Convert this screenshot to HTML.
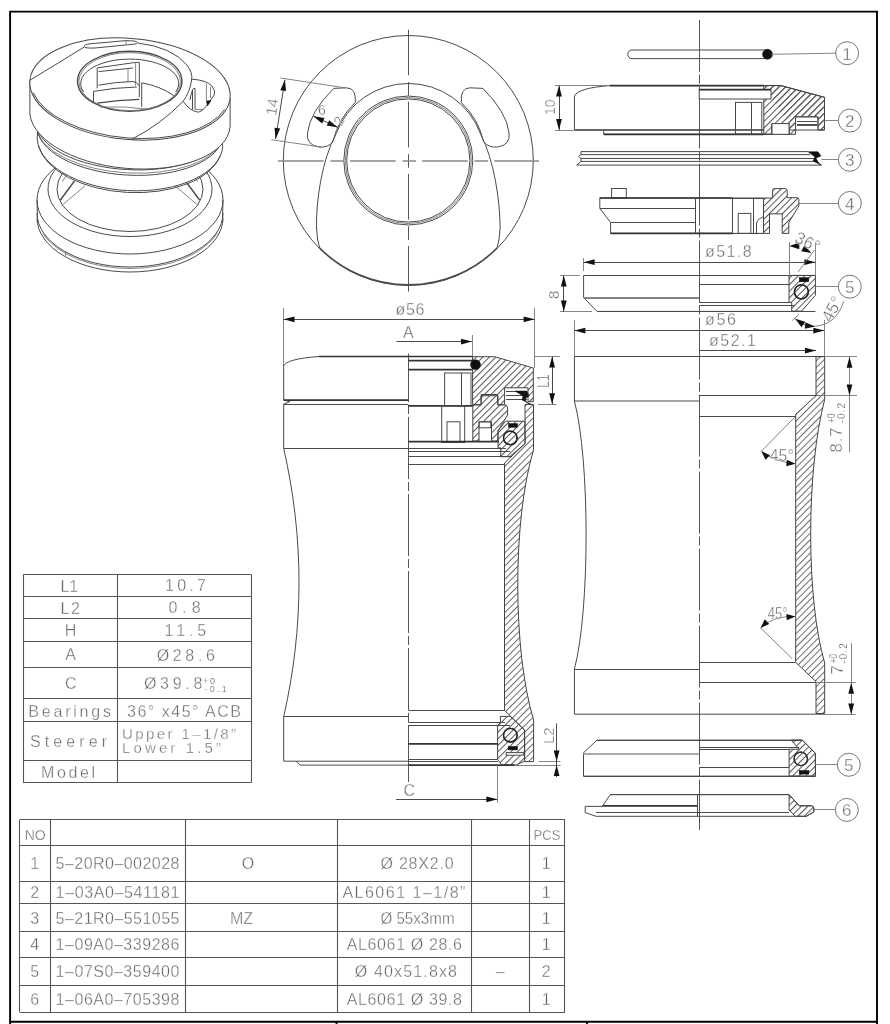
<!DOCTYPE html>
<html><head><meta charset="utf-8"><style>
html,body{margin:0;padding:0;background:#fff;}
svg{position:absolute;left:0;top:0;display:block;will-change:transform;}
.ln{fill:none;stroke:#4a4a4a;stroke-width:1;}
.lt{fill:none;stroke:#777;stroke-width:0.9;}
.bd{fill:none;stroke:#333;stroke-width:1.7;}
.fr{fill:none;stroke:#000;stroke-width:1.9;}
.tb{fill:none;stroke:#555;stroke-width:1.1;}
.ar{fill:#111;stroke:none;}
.blk{fill:#111;stroke:#111;stroke-width:0.5;}
.ht{fill:url(#hatch);stroke:#444;stroke-width:1;}
.ht2{fill:url(#hatch2);stroke:#444;stroke-width:1;}
.cl{fill:none;stroke:#555;stroke-width:1;}
.tx{fill:#666;stroke:#fff;stroke-width:0.35px;font-family:"Liberation Sans",sans-serif;}
.sm{stroke-width:0.15px;fill:#666;}
.wt{fill:#fff;stroke:#4a4a4a;stroke-width:1;}
</style></head><body>
<svg width="890" height="1024" viewBox="0 0 890 1024"><defs>
<pattern id="hatch" patternUnits="userSpaceOnUse" width="4.6" height="10" patternTransform="rotate(45)"><line x1="0.5" y1="0" x2="0.5" y2="10" stroke="#555" stroke-width="1"/></pattern>
<pattern id="hatch2" patternUnits="userSpaceOnUse" width="4.7" height="10" patternTransform="rotate(45)"><line x1="0.5" y1="0" x2="0.5" y2="10" stroke="#555" stroke-width="0.9"/></pattern>
</defs>
<path d="M10.1,1024 V11.6 H877 V1024" class="fr" />
<line x1="10.1" y1="1021.7" x2="877" y2="1021.7" class="fr" />
<line x1="336.5" y1="1021.8" x2="336.5" y2="1024" class="fr" />
<line x1="587" y1="1021.8" x2="587" y2="1024" class="fr" />
<line x1="23.4" y1="574.5" x2="251.1" y2="574.5" class="tb" />
<line x1="23.4" y1="596.5" x2="251.1" y2="596.5" class="tb" />
<line x1="23.4" y1="618.5" x2="251.1" y2="618.5" class="tb" />
<line x1="23.4" y1="641.5" x2="251.1" y2="641.5" class="tb" />
<line x1="23.4" y1="667.5" x2="251.1" y2="667.5" class="tb" />
<line x1="23.4" y1="698.5" x2="251.1" y2="698.5" class="tb" />
<line x1="23.4" y1="721.5" x2="251.1" y2="721.5" class="tb" />
<line x1="23.4" y1="760.5" x2="251.1" y2="760.5" class="tb" />
<line x1="23.4" y1="782.5" x2="251.1" y2="782.5" class="tb" />
<line x1="23.5" y1="574.4" x2="23.5" y2="782.8" class="tb" />
<line x1="251.5" y1="574.4" x2="251.5" y2="782.8" class="tb" />
<line x1="117.5" y1="574.4" x2="117.5" y2="782.8" class="tb" />
<text x="60.6" y="591.6" font-size="16" text-anchor="start" class="tx" textLength="17.5" lengthAdjust="spacingAndGlyphs" >L1</text>
<text x="60.6" y="613.8" font-size="16" text-anchor="start" class="tx" textLength="19.4" lengthAdjust="spacing" >L2</text>
<text x="70.5" y="635.8" font-size="16" text-anchor="middle" class="tx" >H</text>
<text x="70.5" y="660" font-size="16" text-anchor="middle" class="tx" >A</text>
<text x="70.7" y="688.8" font-size="16" text-anchor="middle" class="tx" >C</text>
<text x="28.3" y="716.5" font-size="16" text-anchor="start" class="tx" textLength="82.7" lengthAdjust="spacing" >Bearings</text>
<text x="30" y="746.8" font-size="16" text-anchor="start" class="tx" textLength="77" lengthAdjust="spacing" >Steerer</text>
<text x="41" y="777.6" font-size="16" text-anchor="start" class="tx" textLength="54" lengthAdjust="spacing" >Model</text>
<text x="165" y="591" font-size="16" text-anchor="start" class="tx" textLength="41" lengthAdjust="spacing" >10.7</text>
<text x="168.5" y="613.3" font-size="16" text-anchor="start" class="tx" textLength="32.2" lengthAdjust="spacing" >0.8</text>
<text x="164.6" y="635.8" font-size="16" text-anchor="start" class="tx" textLength="41.6" lengthAdjust="spacing" >11.5</text>
<text x="156.7" y="660.5" font-size="16" text-anchor="start" class="tx" textLength="58.2" lengthAdjust="spacing" >&#216;28.6</text>
<text x="144" y="688.5" font-size="16" text-anchor="start" class="tx" textLength="58.3" lengthAdjust="spacing" >&#216;39.8</text>
<text x="203" y="683.5" font-size="9" text-anchor="start" class="tx sm" textLength="12" lengthAdjust="spacing" >+0</text>
<text x="204.4" y="692.4" font-size="9" text-anchor="start" class="tx sm" textLength="22.3" lengthAdjust="spacing" >-0.1</text>
<text x="127" y="716.5" font-size="16" text-anchor="start" class="tx" textLength="114" lengthAdjust="spacing" >36&#176; x45&#176; ACB</text>
<text x="122" y="738.5" font-size="15" text-anchor="start" class="tx" textLength="114" lengthAdjust="spacing" >Upper  1&#8211;1/8&#8221;</text>
<text x="122" y="752.5" font-size="15" text-anchor="start" class="tx" textLength="99" lengthAdjust="spacing" >Lower  1.5&#8221;</text>
<line x1="19.8" y1="819.5" x2="564.8" y2="819.5" class="tb" />
<line x1="19.8" y1="845.5" x2="564.8" y2="845.5" class="tb" />
<line x1="19.8" y1="881.5" x2="564.8" y2="881.5" class="tb" />
<line x1="19.8" y1="903.5" x2="564.8" y2="903.5" class="tb" />
<line x1="19.8" y1="931.5" x2="564.8" y2="931.5" class="tb" />
<line x1="19.8" y1="957.5" x2="564.8" y2="957.5" class="tb" />
<line x1="19.8" y1="985.5" x2="564.8" y2="985.5" class="tb" />
<line x1="19.8" y1="1012.5" x2="564.8" y2="1012.5" class="tb" />
<line x1="19.5" y1="819.8" x2="19.5" y2="1012" class="tb" />
<line x1="50.5" y1="819.8" x2="50.5" y2="1012" class="tb" />
<line x1="185.5" y1="819.8" x2="185.5" y2="1012" class="tb" />
<line x1="337.5" y1="819.8" x2="337.5" y2="1012" class="tb" />
<line x1="471.5" y1="819.8" x2="471.5" y2="1012" class="tb" />
<line x1="529.5" y1="819.8" x2="529.5" y2="1012" class="tb" />
<line x1="564.5" y1="819.8" x2="564.5" y2="1012" class="tb" />
<text x="24.7" y="839.5" font-size="15" text-anchor="start" class="tx" textLength="21.1" lengthAdjust="spacingAndGlyphs" >NO</text>
<text x="533.5" y="839.5" font-size="15" text-anchor="start" class="tx" textLength="26.9" lengthAdjust="spacingAndGlyphs" >PCS</text>
<text x="34.6" y="869.4" font-size="16" text-anchor="middle" class="tx" >1</text>
<text x="55.6" y="869.4" font-size="16" text-anchor="start" class="tx" textLength="123.8" lengthAdjust="spacing" >5&#8211;20R0&#8211;002028</text>
<text x="546.3" y="869.4" font-size="16" text-anchor="middle" class="tx" >1</text>
<text x="34.6" y="898.4" font-size="16" text-anchor="middle" class="tx" >2</text>
<text x="55.6" y="898.4" font-size="16" text-anchor="start" class="tx" textLength="123.8" lengthAdjust="spacing" >1&#8211;03A0&#8211;541181</text>
<text x="546.3" y="898.4" font-size="16" text-anchor="middle" class="tx" >1</text>
<text x="34.6" y="923.5" font-size="16" text-anchor="middle" class="tx" >3</text>
<text x="55.6" y="923.5" font-size="16" text-anchor="start" class="tx" textLength="123.8" lengthAdjust="spacing" >5&#8211;21R0&#8211;551055</text>
<text x="546.3" y="923.5" font-size="16" text-anchor="middle" class="tx" >1</text>
<text x="34.6" y="950.4" font-size="16" text-anchor="middle" class="tx" >4</text>
<text x="55.6" y="950.4" font-size="16" text-anchor="start" class="tx" textLength="123.8" lengthAdjust="spacing" >1&#8211;09A0&#8211;339286</text>
<text x="546.3" y="950.4" font-size="16" text-anchor="middle" class="tx" >1</text>
<text x="34.6" y="977.3" font-size="16" text-anchor="middle" class="tx" >5</text>
<text x="55.6" y="977.3" font-size="16" text-anchor="start" class="tx" textLength="123.8" lengthAdjust="spacing" >1&#8211;07S0&#8211;359400</text>
<text x="546.3" y="977.3" font-size="16" text-anchor="middle" class="tx" >2</text>
<text x="34.6" y="1004.5" font-size="16" text-anchor="middle" class="tx" >6</text>
<text x="55.6" y="1004.5" font-size="16" text-anchor="start" class="tx" textLength="123.8" lengthAdjust="spacing" >1&#8211;06A0&#8211;705398</text>
<text x="546.3" y="1004.5" font-size="16" text-anchor="middle" class="tx" >1</text>
<text x="248" y="869.4" font-size="16" text-anchor="middle" class="tx" >O</text>
<text x="241.5" y="923.5" font-size="16" text-anchor="middle" class="tx" >MZ</text>
<text x="380.4" y="869.4" font-size="16" text-anchor="start" class="tx" textLength="73.2" lengthAdjust="spacing" >&#216; 28X2.0</text>
<text x="342.4" y="898.4" font-size="16" text-anchor="start" class="tx" textLength="123" lengthAdjust="spacing" >AL6061  1&#8211;1/8&#8221;</text>
<text x="380.4" y="923.5" font-size="16" text-anchor="start" class="tx" textLength="74.2" lengthAdjust="spacingAndGlyphs" >&#216; 55x3mm</text>
<text x="346.7" y="950.4" font-size="16" text-anchor="start" class="tx" textLength="115.3" lengthAdjust="spacing" >AL6061 &#216; 28.6</text>
<text x="354.8" y="977.3" font-size="16" text-anchor="start" class="tx" textLength="102.2" lengthAdjust="spacing" >&#216; 40x51.8x8</text>
<text x="500.2" y="977.3" font-size="16" text-anchor="middle" class="tx" >&#8211;</text>
<text x="346.7" y="1004.5" font-size="16" text-anchor="start" class="tx" textLength="115.3" lengthAdjust="spacing" >AL6061 &#216; 39.8</text>
<circle cx="408.3" cy="160.5" r="125" class="ln" />
<circle cx="408.3" cy="160.5" r="64.5" class="ln" />
<circle cx="408.3" cy="160.5" r="63" class="lt" />
<circle cx="408.3" cy="160.5" r="61.6" class="ln" />
<path d="M408.5,29.7 V297" class="cl" stroke-dasharray="45.6,6.8,13.6,6.1"/>
<path d="M278,161 H539" class="cl" stroke-dasharray="45.6,6.8,13.6,6.1" style="stroke:#888;stroke-width:1.3"/>
<path d="M319.7,248 Q317,240 316.5,228 C316,200 322,160 335.94,134.16 A77,77 0 0 1 480.66,134.16 C494,160 500,200 500.1,228 Q499.6,240 497,248" class="ln" />
<path d="M319.7,248 A125,125 0 0 0 497,248" class="ln" style="stroke-width:1.5"/>
<path d="M333.7,88.4 L346.5,87.8 Q356.5,88 355.3,102.5 A77.5,77.5 0 0 0 333,141.6 Q328,148 319,147 Q306,145 307.5,133 Q310,112 333.7,88.4 Z" class="ln" />
<path d="M482.9,88.4 L470.1,87.8 Q460.1,88 461.3,102.5 A77.5,77.5 0 0 1 483.6,141.6 Q488.6,148 497.6,147 Q510.6,145 509.1,133 Q506.6,112 482.9,88.4 Z" class="ln" />
<line x1="346" y1="88" x2="280.5" y2="78" class="lt" />
<line x1="321" y1="147" x2="271.3" y2="139.7" class="lt" />
<line x1="284.9" y1="79.8" x2="275.6" y2="139" class="ln" />
<path d="M284.9,79.8 L286.04,91.12 L280.31,90.21 Z" class="ar"/>
<path d="M275.6,139 L274.46,127.68 L280.19,128.59 Z" class="ar"/>
<text x="0" y="0" font-size="15" text-anchor="start" class="tx" transform="translate(276,116) rotate(-81)">14</text>
<line x1="313.3" y1="116.2" x2="338" y2="127.4" class="ln" />
<path d="M313.3,116.2 L324.52,118.1 L322.12,123.39 Z" class="ar"/>
<path d="M338,127.4 L326.78,125.5 L329.18,120.21 Z" class="ar"/>
<text x="318" y="115" font-size="14" text-anchor="start" class="tx" >6</text>
<text x="334" y="124" font-size="14" text-anchor="start" class="tx" transform="rotate(-60 340 119)">2</text>
<ellipse cx="130" cy="200" rx="93" ry="54" class="ln" />
<ellipse cx="130" cy="189" rx="82" ry="47.5" class="ln" />
<ellipse cx="130" cy="189.2" rx="73" ry="42.3" class="ln" />
<path d="M62.39,181.65 A70,40 0 0 1 197.61,181.65" class="lt" />
<path d="M74.5,181 L60.4,200" class="ln" style="stroke-width:1.4"/>
<path d="M85,185.8 L61.6,205.7" class="lt" />
<path d="M185.5,181 L199.6,200" class="ln" style="stroke-width:1.4"/>
<path d="M175,185.8 L198.4,205.7" class="lt" />
<line x1="37" y1="200" x2="37.5" y2="222" class="ln" />
<line x1="223" y1="200" x2="222.5" y2="222" class="ln" />
<path d="M223,213 A93,54 0 0 1 37,213" class="ln" />
<path d="M217.39,232.97 A93,54 0 0 1 42.61,232.97" class="lt" />
<path d="M223,218 A93,54 0 0 1 37,218" class="ln" />
<line x1="65.5" y1="251.5" x2="65.5" y2="256" class="lt" />
<path d="M37.13,120.13 V136.13 A93,50 3 0 0 222.87,145.87 V129.87 Z" class="wt" style="stroke:none"/>
<line x1="37.5" y1="124.13" x2="37.5" y2="136.13" class="ln" />
<line x1="222.5" y1="133.87" x2="222.5" y2="145.87" class="ln" />
<path d="M222.87,145.87 A93,50 3 0 1 37.13,136.13" class="ln" />
<path d="M220.51,155.52 A92.5,50.5 3 0 1 38.57,145.99" class="ln" />
<path d="M222.87,132.87 A93,42 3 0 1 37.13,123.13" class="ln" />
<path d="M222.32,138.59 A93,43 3 0 1 37.28,128.89" class="lt" />
<path d="M222.87,135.87 A93,44.5 3 0 1 37.13,126.13" class="ln" />
<path d="M29.88,80.24 L29.88,109.24 A100.5,50.5 5 0 0 230.12,126.76 L230.12,97.76 Z" class="wt" />
<ellipse cx="130" cy="89" rx="100.5" ry="50.5" class="wt" transform="rotate(5 130 89)"/>
<path d="M224.62,109.27 A99.5,50 5 0 1 33.13,92.52" class="ln" />
<path d="M29.88,80.24 Q60,62 84.2,47 M137.6,43 Q172,47 186.9,65 Q193,73 191.6,80 Q190,92 183.1,101.4 Q160,125 132.5,138.8" class="ln" />
<ellipse cx="129.7" cy="81.2" rx="52.2" ry="30" class="ln" style="stroke-width:1.4"/>
<ellipse cx="129.7" cy="81.6" rx="50.8" ry="29" class="lt" />
<path d="M83.66,91.98 A49,24.5 0 1 1 175.74,91.98" class="ln" />
<path d="M97.2,88.3 V67.9 L135.6,62.4 H139.3 V97" class="ln" />
<path d="M135.6,62.4 V86" class="lt" />
<path d="M98.5,71.6 L133,68" class="ln" />
<path d="M128,68 V82" class="lt" />
<path d="M98.5,85.2 Q115,82 133,81.5 Q137,82 139.3,85.8" class="ln" />
<path d="M93.5,102 V91.4 Q115,87.5 136.8,87" class="ln" />
<path d="M97.2,103.2 Q118,100 139.3,99.4" class="ln" style="stroke-width:1.3"/>
<path d="M141.7,106.9 V82.8 Q160,86 173.9,95.7" class="ln" />
<path d="M100,107 Q125,106 149,109.3" class="lt" />
<path d="M84.2,46.5 Q84,44.5 90,43.8 L125,40.7 Q137,40.5 137.6,42.6 Q137,44 134,44.2 L95,48 Q84.5,48.5 84.2,46.5 Z" class="ln" />
<path d="M126,41 V44.5" class="lt" />
<path d="M191.8,79.2 Q206,80 212,86 Q216,91 214.2,95 L206.4,106.1 Q202,112 198.3,112.2 Q190,111 183.1,101.4" class="ln" />
<path d="M192.5,109.5 V90 Q193.5,87.5 195,88.6 V109.5 M190,100 Q191,94 192.5,90" class="ln" />
<path d="M206.4,84 V101 M210.5,87 V98 M195,109.5 H204" class="lt" />
<path d="M206.5,101 L211,100.5 L207.5,106 Z" class="blk" />
<line x1="699.5" y1="20" x2="699.5" y2="830" class="cl" stroke-dasharray="62,3,9,3" stroke-dashoffset="10.4"/>
<path d="M632,50 H767 A4.3,4.3 0 0 1 767,58.6 H632 A4.3,4.3 0 0 1 632,50 Z" class="ln" />
<circle cx="767.5" cy="54.3" r="5" class="blk" />
<line x1="771" y1="54.3" x2="835.6" y2="53.2" class="lt" />
<circle cx="847.1" cy="53.2" r="11.5" class="lt" style="stroke:#666"/>
<text x="847.1" y="59.7" font-size="17" text-anchor="middle" class="tx" >1</text>
<path d="M574.4,130 V96 Q578,88 609.8,85.6 H763.8" class="ln" />
<line x1="609.8" y1="85.6" x2="763.8" y2="85.6" class="bd" />
<line x1="574.4" y1="130" x2="763.8" y2="130" class="bd" />
<path d="M603.7,130 V134.3 H763.8" class="ln" />
<line x1="603.7" y1="134.3" x2="763.8" y2="134.3" class="bd" />
<rect x="735.5" y="102.4" width="26.3" height="31.6" class="ln" />
<line x1="751.5" y1="102.4" x2="751.5" y2="134" class="ln" />
<path d="M763.8,85.6 H781 L824.5,97.3 V130 H817.8 V117 H795.6 V130 H789 V134.3 H772 V123.6 H789 M772,134.3 H763.8 Z" class="ht" />
<path d="M763.8,85.6 H781 L824.5,97.3 V130 H817.8 V117 H795.6 V134.3 H789 V123.6 H772 V134.3 H763.8 Z" class="ht" />
<rect x="699.2" y="89.6" width="71.8" height="9.4" class="wt" />
<line x1="699.2" y1="89.6" x2="771" y2="89.6" class="bd" />
<rect x="772" y="123.6" width="17" height="10.7" class="wt" />
<rect x="795.6" y="117" width="22.2" height="13" class="wt" />
<line x1="797" y1="121.5" x2="817" y2="121.5" class="ln" />
<line x1="797" y1="125" x2="817" y2="125" class="bd" />
<line x1="555" y1="85.5" x2="609" y2="85.5" class="lt" />
<line x1="555" y1="130.5" x2="574" y2="130.5" class="lt" />
<line x1="559.5" y1="85.6" x2="559.5" y2="130" class="ln" />
<path d="M559,85.6 L561.9,96.6 L556.1,96.6 Z" class="ar"/>
<path d="M559,130 L556.1,119 L561.9,119 Z" class="ar"/>
<text x="0" y="0" font-size="14" text-anchor="start" class="tx" transform="translate(555,115) rotate(-90)">10</text>
<circle cx="849.8" cy="120.6" r="11.5" class="lt" style="stroke:#666"/>
<line x1="824.5" y1="120.5" x2="838.3" y2="120.5" class="lt" />
<text x="849.8" y="127.1" font-size="17" text-anchor="middle" class="tx" >2</text>
<path d="M581,151.6 H808 M581,154.6 H810 M581,158.5 H815 M581,161.4 H818 M576.7,165.1 H821.5" class="ln" />
<path d="M581,151.6 V154.6 Q576.5,156.5 581,158.5 V161.4 L576.7,165.1" class="ln" />
<path d="M808,151.7 H818 L821,156 L816,158 L818,162 L821.5,165.3 L813,161 L815,157 Z" class="blk" />
<circle cx="849.8" cy="159.8" r="11.5" class="lt" style="stroke:#666"/>
<line x1="821.5" y1="159.5" x2="838.3" y2="159.5" class="lt" />
<text x="849.8" y="166.3" font-size="17" text-anchor="middle" class="tx" >3</text>
<rect x="611.6" y="188.5" width="14.7" height="9.5" class="ln" />
<path d="M599.8,198 H763.2 M599.8,198 V208.2 L610.6,222.5 V233.4 H763.2" class="ln" />
<line x1="599.8" y1="208.5" x2="695.5" y2="208.5" class="ln" />
<line x1="610.6" y1="222.5" x2="695.5" y2="222.5" class="ln" />
<line x1="610.6" y1="233.4" x2="732.6" y2="233.4" class="bd" />
<line x1="732.6" y1="233.5" x2="763.5" y2="233.5" class="ln" />
<line x1="599.8" y1="198" x2="732.6" y2="198" class="bd" />
<line x1="732.6" y1="198.5" x2="763.5" y2="198.5" class="ln" />
<line x1="695.5" y1="198" x2="695.5" y2="233.4" class="ln" />
<line x1="732.5" y1="198" x2="732.5" y2="233.4" class="ln" />
<line x1="753.5" y1="198" x2="753.5" y2="233.4" class="ln" />
<path d="M756.5,233.4 V223 Q757,219 763.5,216.5" class="ln" />
<rect x="738.2" y="213.4" width="12.6" height="20" class="ln" />
<path d="M763.5,198 H772.6 V190.5 Q772.6,188.6 774.5,188.6 H785.2 Q787.2,188.6 787.2,190.5 V197.7 H797 Q798.9,197.7 798.9,199.5 V205.8 L788.8,222.5 V233.4 H782.2 V213.9 H769.5 V233.4 H763.5 Z" class="ht" />
<circle cx="849.8" cy="203" r="11.5" class="lt" style="stroke:#666"/>
<line x1="799" y1="203.5" x2="838.3" y2="203.5" class="lt" />
<text x="849.8" y="209.5" font-size="17" text-anchor="middle" class="tx" >4</text>
<path d="M583.6,275.4 V297.5 L597,311.4 H789" class="ln" />
<line x1="583.6" y1="275.5" x2="815.4" y2="275.5" class="ln" />
<line x1="583.6" y1="297.5" x2="699.2" y2="297.5" class="lt" />
<line x1="583.6" y1="298.5" x2="699.2" y2="298.5" class="lt" />
<line x1="699.2" y1="284.5" x2="789" y2="284.5" class="ln" />
<line x1="699.2" y1="302.5" x2="789" y2="302.5" class="ln" />
<line x1="699.2" y1="305.5" x2="795" y2="305.5" class="ln" />
<line x1="597" y1="311.5" x2="815.4" y2="311.5" class="ln" />
<path d="M789,275.4 H815.4 V295.3 L801.6,311.1 H791.7 V302.3 H789 Z" class="ht" />
<circle cx="801.4" cy="291.8" r="7" class="wt" style="stroke:#222;stroke-width:1.3"/>
<circle cx="801.4" cy="291.8" r="7" class="ht" style="stroke:#222;stroke-width:1.3"/>
<rect x="799.3" y="277.7" width="9.4" height="4.1" class="blk" />
<line x1="583.5" y1="258" x2="583.5" y2="271" class="lt" />
<line x1="815.5" y1="242" x2="815.5" y2="275" class="lt" />
<line x1="583.6" y1="262.5" x2="815.4" y2="262.5" class="ln" />
<path d="M583.6,262.2 L594.6,259.3 L594.6,265.1 Z" class="ar"/>
<path d="M815.4,262.2 L804.4,265.1 L804.4,259.3 Z" class="ar"/>
<text x="705" y="257.4" font-size="16" text-anchor="start" class="tx" textLength="46.7" lengthAdjust="spacing" >&#248;51.8</text>
<line x1="560" y1="275.5" x2="580" y2="275.5" class="lt" />
<line x1="560" y1="311.5" x2="592" y2="311.5" class="lt" />
<line x1="563.5" y1="275.4" x2="563.5" y2="311.4" class="ln" />
<path d="M563.8,275.4 L566.7,286.4 L560.9,286.4 Z" class="ar"/>
<path d="M563.8,311.4 L560.9,300.4 L566.7,300.4 Z" class="ar"/>
<text x="0" y="0" font-size="15" text-anchor="start" class="tx" transform="translate(559,299) rotate(-90)">8</text>
<line x1="789.5" y1="242" x2="789.5" y2="280" class="lt" />
<path d="M789.3,245.9 L799.3,242.6 L799.3,249.2 Z" class="ar"/>
<path d="M811.6,253.1 L801.22,251.32 L804.32,245.49 Z" class="ar"/>
<line x1="798.1" y1="271.9" x2="814.5" y2="250.2" class="lt" />
<text x="0" y="0" font-size="17" text-anchor="start" class="tx" transform="translate(793.5,241.5) rotate(26)">36&#176;</text>
<path d="M843.8,301.2 Q836,326 812,326.4 Q802,325 795.2,318.8" class="lt" />
<line x1="792.3" y1="320.5" x2="798.7" y2="314.7" class="lt" />
<path d="M795.2,318.8 L805.28,321.83 L801.5,327.24 Z" class="ar"/>
<path d="M815,326.4 L804.75,328.82 L805.33,322.24 Z" class="ar"/>
<text x="0" y="0" font-size="17" text-anchor="start" class="tx" transform="translate(831,323) rotate(-62)">45&#176;</text>
<circle cx="849.8" cy="286.7" r="11.5" class="lt" style="stroke:#666"/>
<line x1="815.4" y1="286.5" x2="838.3" y2="286.5" class="lt" />
<text x="849.8" y="293.2" font-size="17" text-anchor="middle" class="tx" >5</text>
<line x1="574.5" y1="320" x2="574.5" y2="356.7" class="lt" />
<line x1="824.5" y1="320" x2="824.5" y2="356.7" class="lt" />
<line x1="574.4" y1="330.5" x2="824.3" y2="330.5" class="ln" />
<path d="M574.4,330.6 L585.4,327.7 L585.4,333.5 Z" class="ar"/>
<path d="M824.3,330.6 L813.3,333.5 L813.3,327.7 Z" class="ar"/>
<text x="705" y="325" font-size="16" text-anchor="start" class="tx" textLength="31" lengthAdjust="spacing" >&#248;56</text>
<line x1="699.2" y1="350.5" x2="816" y2="350.5" class="ln" />
<path d="M816,350.6 L805,353.5 L805,347.7 Z" class="ar"/>
<text x="709" y="346" font-size="16" text-anchor="start" class="tx" textLength="47" lengthAdjust="spacing" >&#248;52.1</text>
<line x1="408.5" y1="353.5" x2="408.5" y2="782" class="cl" stroke-dasharray="62,3,9,3" stroke-dashoffset="13.5"/>
<line x1="283.5" y1="308" x2="283.5" y2="366" class="lt" />
<line x1="534.5" y1="308" x2="534.5" y2="368" class="lt" />
<line x1="283.5" y1="319.5" x2="534.6" y2="319.5" class="ln" />
<path d="M283.5,319.3 L294.5,316.4 L294.5,322.2 Z" class="ar"/>
<path d="M534.6,319.3 L523.6,322.2 L523.6,316.4 Z" class="ar"/>
<text x="395.4" y="315.3" font-size="16" text-anchor="start" class="tx" textLength="29" lengthAdjust="spacing" >&#248;56</text>
<line x1="396.4" y1="341.5" x2="472" y2="341.5" class="ln" />
<path d="M472,341.6 L461,344.5 L461,338.7 Z" class="ar"/>
<line x1="472.5" y1="335" x2="472.5" y2="362" class="lt" />
<text x="408.3" y="338" font-size="16" text-anchor="middle" class="tx" >A</text>
<line x1="535" y1="356.5" x2="560" y2="356.5" class="lt" />
<line x1="538" y1="404.5" x2="556.5" y2="404.5" class="lt" />
<line x1="552.5" y1="356.5" x2="552.5" y2="404.2" class="ln" />
<path d="M552.1,356.5 L555,367.5 L549.2,367.5 Z" class="ar"/>
<path d="M552.1,404.2 L549.2,393.2 L555,393.2 Z" class="ar"/>
<text x="0" y="0" font-size="16" text-anchor="start" class="tx" textLength="13.3" lengthAdjust="spacingAndGlyphs" transform="translate(548.7,387.7) rotate(-90)">L1</text>
<path d="M283.7,366 Q286,359 319,356.5" class="ln" />
<line x1="319" y1="356.5" x2="408.4" y2="356.5" class="bd" />
<path d="M283.7,366 V400.2 L290,401.5 L283.7,404.2 V448.5 C304.1,537.9 304.1,627.2 283.7,716.6 V761.2 H408.4" class="ln" />
<line x1="283.7" y1="400.2" x2="408.4" y2="400.2" class="bd" />
<line x1="283.7" y1="404.5" x2="408.4" y2="404.5" class="ln" />
<line x1="283.7" y1="448.5" x2="408.4" y2="448.5" class="ln" />
<line x1="283.7" y1="716.5" x2="408.4" y2="716.5" class="ln" />
<path d="M296,761.2 L300,765.1 H408.4" class="ln" />
<line x1="408.4" y1="356.5" x2="472.6" y2="356.5" class="bd" />
<line x1="408.4" y1="360.7" x2="472.6" y2="360.7" class="bd" />
<line x1="408.4" y1="369.7" x2="472.6" y2="369.7" class="bd" />
<rect x="444.6" y="373" width="26.4" height="32.6" class="ln" />
<line x1="461.5" y1="373" x2="461.5" y2="405.6" class="ln" />
<line x1="408.4" y1="405.8" x2="472.6" y2="405.8" class="bd" />
<rect x="441.7" y="405.8" width="23" height="36.7" class="ln" />
<rect x="447" y="421.8" width="13" height="20.7" class="ln" />
<line x1="408.4" y1="441.6" x2="499" y2="441.6" class="bd" />
<line x1="408.4" y1="448.5" x2="506" y2="448.5" class="ln" />
<line x1="408.4" y1="451.5" x2="510" y2="451.5" class="ln" />
<line x1="408.4" y1="456.5" x2="512" y2="456.5" class="ln" />
<line x1="408.4" y1="464.5" x2="505" y2="464.5" class="ln" />
<path d="M472.6,356.7 H494.7 L533.3,368 V401.7 H528 V387.8 H504.6 V404.8 H497.4 V394.5 H481.2 V404.8 H472.6 Z" class="ht" />
<circle cx="475.5" cy="364.8" r="5" class="blk" />
<line x1="506" y1="391.5" x2="527" y2="391.5" class="ln" />
<line x1="506" y1="395.5" x2="527" y2="395.5" class="ln" />
<line x1="506" y1="399.5" x2="527" y2="399.5" class="ln" />
<path d="M515,391 H527 L529,396 L525,399 L527,403 L533,405 L522,400 L523,396 Z" class="blk" />
<path d="M472.8,404.8 H481 V395.7 H498 V404.8 H505 Q507.6,405.5 507.6,408 V415 L498,430.8 V441 H491.5 V421.8 H479 V441 H472.8 Z" class="ht" />
<rect x="479" y="421.8" width="11.8" height="6" class="ln" />
<path d="M525,404.5 H533.5 V450 C512.5,520 512.5,650 533.6,720 V761.6 H524.6 V730 L504.5,710.3 V463 L525,443.7 Z" class="ht2" />
<path d="M505.5,421.2 H525 V443.7 L509.6,456.7 H500.7 V447.8 H498 V430.8 Z" class="ht" />
<circle cx="510.3" cy="437.9" r="6.8" class="wt" style="stroke:#222;stroke-width:1.3"/>
<circle cx="510.3" cy="437.9" r="6.8" class="ht" style="stroke:#222;stroke-width:1.3"/>
<rect x="508.6" y="423.6" width="8.9" height="3.7" class="blk" />
<path d="M500.4,716.4 H510.3 L524.6,730 V761.2 L516,765.1 H502 L497.6,759.5 V725.3 L500.4,722.6 Z" class="ht" />
<rect x="506.2" y="752.6" width="17.1" height="2.6" class="wt" />
<circle cx="510.3" cy="735.2" r="6.8" class="wt" style="stroke:#222;stroke-width:1.3"/>
<circle cx="510.3" cy="735.2" r="6.8" class="ht" style="stroke:#222;stroke-width:1.3"/>
<rect x="508.2" y="746.5" width="9.3" height="3.4" class="blk" />
<line x1="408.4" y1="710.5" x2="505" y2="710.5" class="ln" />
<line x1="408.4" y1="722.5" x2="505" y2="722.5" class="ln" />
<line x1="408.4" y1="725.5" x2="510" y2="725.5" class="ln" />
<line x1="408.4" y1="743.9" x2="498" y2="743.9" class="bd" />
<line x1="408.4" y1="759.5" x2="498" y2="759.5" class="ln" />
<line x1="408.4" y1="761.5" x2="498" y2="761.5" class="ln" />
<line x1="408.4" y1="765.1" x2="514.6" y2="765.1" class="bd" />
<line x1="538.5" y1="761.5" x2="560.5" y2="761.5" class="lt" />
<line x1="514.6" y1="765.5" x2="560.5" y2="765.5" class="lt" />
<line x1="556.5" y1="723.4" x2="556.5" y2="777" class="ln" />
<path d="M556.6,761.6 L553.7,750.6 L559.5,750.6 Z" class="ar"/>
<path d="M556.6,765.1 L559.5,776.1 L553.7,776.1 Z" class="ar"/>
<text x="0" y="0" font-size="15" text-anchor="start" class="tx" transform="translate(553.8,744) rotate(-90)">L2</text>
<line x1="396" y1="799.5" x2="497.4" y2="799.5" class="ln" />
<path d="M497.4,799.3 L486.4,802.2 L486.4,796.4 Z" class="ar"/>
<line x1="497.5" y1="765" x2="497.5" y2="802.7" class="lt" />
<text x="403.5" y="796" font-size="16" text-anchor="start" class="tx" >C</text>
<line x1="574.4" y1="356.5" x2="824.3" y2="356.5" class="ln" />
<path d="M574.4,356.7 V401 H699.2" class="ln" />
<path d="M574.4,401 C590,460 590,610 574.4,669.2 V714.2 H824.3" class="ln" />
<line x1="574.4" y1="669.5" x2="699.2" y2="669.5" class="ln" />
<line x1="699.2" y1="395.5" x2="818" y2="395.5" class="ln" />
<line x1="699.2" y1="416.5" x2="795.5" y2="416.5" class="ln" />
<line x1="699.2" y1="662.5" x2="795.5" y2="662.5" class="ln" />
<line x1="699.2" y1="682.5" x2="816" y2="682.5" class="ln" />
<path d="M816,356.7 H824.7 V399.4 C806,470 806,600 824.7,663 V713.5 H816 V681.6 L795.7,662.3 V414.3 L816,395.7 Z" class="ht2" />
<line x1="825" y1="356.5" x2="857" y2="356.5" class="lt" />
<line x1="818" y1="395.5" x2="857" y2="395.5" class="lt" />
<line x1="849.5" y1="356.7" x2="849.5" y2="452" class="lt" />
<path d="M849.5,356.7 L852.4,367.7 L846.6,367.7 Z" class="ar"/>
<path d="M849.5,395.5 L846.6,384.5 L852.4,384.5 Z" class="ar"/>
<text x="0" y="0" font-size="16.5" text-anchor="start" class="tx" textLength="25" lengthAdjust="spacing" transform="translate(842.3,452.5) rotate(-90)">8.7</text>
<text x="0" y="0" font-size="10" text-anchor="start" class="tx sm" textLength="9.4" lengthAdjust="spacingAndGlyphs" transform="translate(834.8,422.8) rotate(-90)">+0</text>
<text x="0" y="0" font-size="10" text-anchor="start" class="tx sm" textLength="20.7" lengthAdjust="spacing" transform="translate(845.4,423.6) rotate(-90)">-0.2</text>
<line x1="851.5" y1="643.2" x2="851.5" y2="714.4" class="lt" />
<line x1="816" y1="682.5" x2="855.6" y2="682.5" class="lt" />
<line x1="824.3" y1="714.5" x2="855.6" y2="714.5" class="lt" />
<path d="M851.2,682.7 L854.1,693.7 L848.3,693.7 Z" class="ar"/>
<path d="M851.2,714.4 L848.3,703.4 L854.1,703.4 Z" class="ar"/>
<text x="0" y="0" font-size="16.5" text-anchor="start" class="tx" transform="translate(843.3,674.5) rotate(-90)">7</text>
<text x="0" y="0" font-size="10" text-anchor="start" class="tx sm" textLength="9.7" lengthAdjust="spacingAndGlyphs" transform="translate(836.7,663.4) rotate(-90)">+0</text>
<text x="0" y="0" font-size="10" text-anchor="start" class="tx sm" textLength="20.6" lengthAdjust="spacing" transform="translate(846.8,663.8) rotate(-90)">-0.2</text>
<line x1="795.5" y1="416.4" x2="761.4" y2="451.2" class="lt" />
<path d="M761.4,451.2 Q775,462 795.5,463.8" class="lt" />
<path d="M761.4,451.2 L770.03,455.3 L765.5,459.83 Z" class="ar"/>
<path d="M795.5,463.8 L786.26,466.2 L786.81,459.83 Z" class="ar"/>
<text x="769.7" y="460.7" font-size="16" text-anchor="start" class="tx" textLength="24.1" lengthAdjust="spacingAndGlyphs" >45&#176;</text>
<line x1="792" y1="658.4" x2="760.6" y2="628" class="lt" />
<path d="M760.6,628 Q772,616 795.5,616.4" class="lt" />
<path d="M760.6,628 L764.7,619.37 L769.23,623.9 Z" class="ar"/>
<path d="M795.5,616.4 L786.81,620.37 L786.26,614 Z" class="ar"/>
<text x="767.8" y="619.2" font-size="16" text-anchor="start" class="tx" textLength="19.7" lengthAdjust="spacingAndGlyphs" >45&#176;</text>
<path d="M597,740.1 L583.5,752.8 V776.1 H815.4 V753.3 L802.3,740.1 H597" class="ln" />
<line x1="597" y1="740.5" x2="802.3" y2="740.5" class="ln" />
<line x1="583.5" y1="754.1" x2="699.2" y2="754.1" class="lt" style="stroke:#aaa;stroke-width:2"/>
<line x1="699.2" y1="747.5" x2="799.2" y2="747.5" class="ln" />
<line x1="699.2" y1="749.5" x2="789.1" y2="749.5" class="ln" />
<line x1="699.2" y1="767.5" x2="789.1" y2="767.5" class="ln" />
<line x1="583.5" y1="776.5" x2="815.4" y2="776.5" class="ln" />
<path d="M791.1,740.1 H802.3 L815.4,753.3 V776.1 H789.1 V749.2 H799.2 L791.1,740.1 Z" class="ht" />
<circle cx="800.8" cy="758.9" r="6.7" class="wt" style="stroke:#333;stroke-width:1.3"/>
<circle cx="800.8" cy="758.9" r="6.7" class="ht" style="stroke:#333;stroke-width:1.3"/>
<rect x="799.2" y="770.5" width="9.7" height="3.6" class="blk" />
<circle cx="848.8" cy="764.8" r="11.5" class="lt" style="stroke:#666"/>
<line x1="815.4" y1="764.5" x2="837.3" y2="764.5" class="lt" />
<text x="848.8" y="771.3" font-size="17" text-anchor="middle" class="tx" >5</text>
<path d="M610.1,794.7 H789.1 L799.2,805.8 H811.4 Q814,806.5 813.8,808 V811.9 L806.3,816.3 H596.1 L585.2,812.6 V806.4 H602.4 L610.1,794.7" class="ln" />
<line x1="602.4" y1="805.8" x2="697.6" y2="805.8" class="bd" />
<line x1="596.1" y1="812.5" x2="789.1" y2="812.5" class="ln" />
<line x1="697.5" y1="794.7" x2="697.5" y2="816.3" class="ln" />
<line x1="610.1" y1="794.5" x2="789.1" y2="794.5" class="ln" />
<path d="M789.1,794.7 L799.2,805.8 H811.4 Q814,806.5 813.8,808 V811.9 L806.3,816.3 H795.2 L789.1,810 Z" class="ht" />
<circle cx="846.8" cy="809.9" r="11.5" class="lt" style="stroke:#666"/>
<line x1="813.8" y1="809.5" x2="835.3" y2="809.5" class="lt" />
<text x="846.8" y="816.4" font-size="17" text-anchor="middle" class="tx" >6</text>
</svg></body></html>
